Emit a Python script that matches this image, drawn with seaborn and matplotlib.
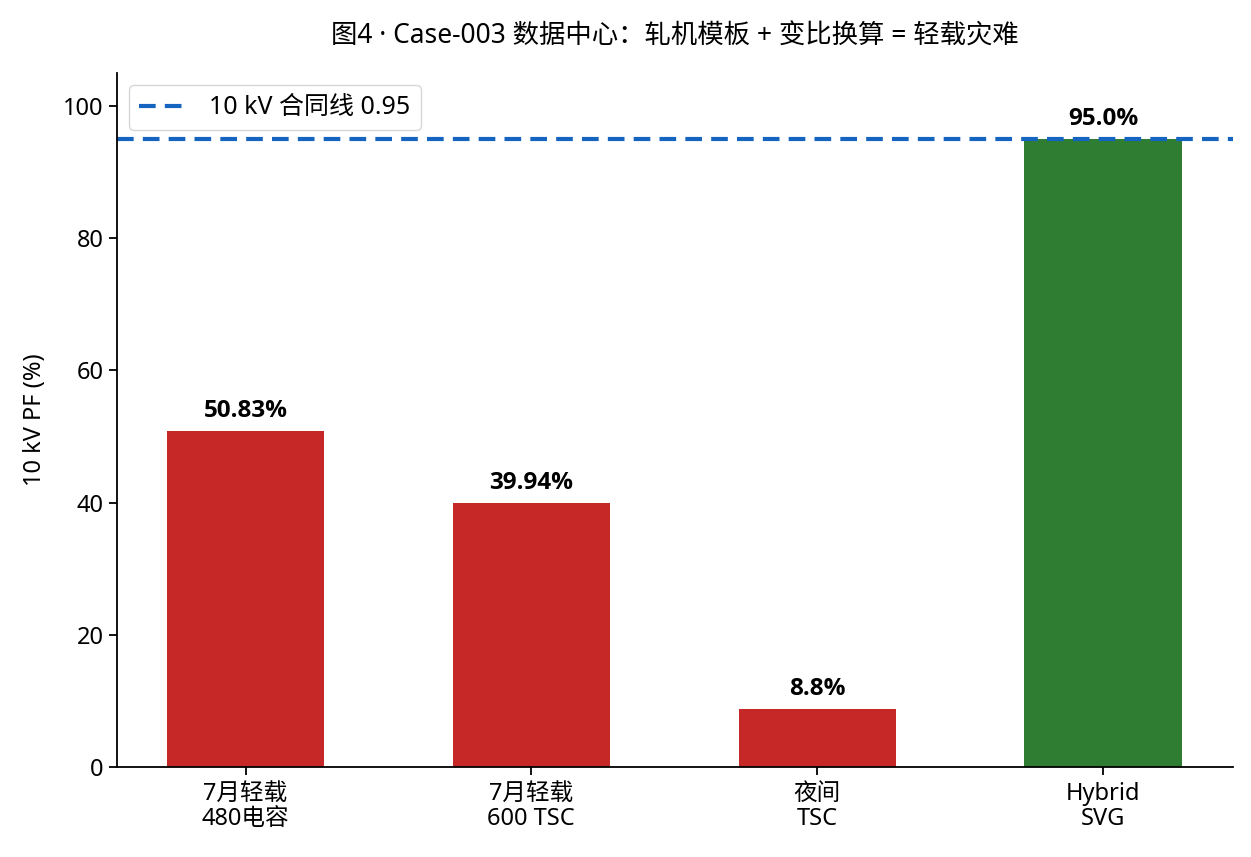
import matplotlib
matplotlib.use("Agg")
import matplotlib.pyplot as plt
import seaborn as sns
import pandas as pd

# data
categories = ["7月轻载\n480电容", "7月轻载\n600 TSC", "夜间\nTSC", "Hybrid\nSVG"]
pf_values = [50.83, 39.94, 8.8, 95.0]
value_labels = ["50.83%", "39.94%", "8.8%", "95.0%"]
contract_line = 95.0

sns.set_theme(style="ticks")
plt.rcParams['font.family'] = ['Noto Sans', 'Noto Sans CJK SC', 'DejaVu Sans']
plt.rcParams['axes.unicode_minus'] = False
plt.rcParams['text.color'] = 'black'
plt.rcParams['axes.labelcolor'] = 'black'
plt.rcParams['xtick.color'] = 'black'
plt.rcParams['ytick.color'] = 'black'
plt.rcParams['axes.edgecolor'] = 'black'

df = pd.DataFrame({"case": categories, "pf": pf_values})
palette = ["#C62828", "#C62828", "#C62828", "#2E7D32"]

fig, ax = plt.subplots(figsize=(12.51, 8.57), dpi=100)
sns.barplot(data=df, x="case", y="pf", hue="case", palette=palette,
            width=0.55, saturation=1, legend=False, linewidth=0, ax=ax)

ax.axhline(contract_line, color="#1565C0", linestyle="--", linewidth=3,
           dashes=(4, 2.2), label="10 kV 合同线 0.95")

for i, (v, lab) in enumerate(zip(pf_values, value_labels)):
    ax.text(i, v + 1.2, lab, ha="center", va="bottom", fontsize=17.5,
            fontweight="bold", family=['Open Sans', 'Noto Sans CJK SC'])

ax.set_ylim(0, 105)
ax.set_xlim(-0.45, 3.455)
ax.set_xlabel("")
ax.set_ylabel("10 kV PF (%)", fontsize=17, labelpad=12)
ax.set_title("图4 · Case-003 数据中心：轧机模板 + 变比换算 = 轻载灾难", fontsize=19, pad=21)
ax.tick_params(labelsize=17, width=1.3, length=6)
ax.tick_params(axis="x", pad=5)
for lbl in ax.get_xticklabels():
    lbl.set_linespacing(1.05)
for s in ax.spines.values():
    s.set_linewidth(1.3)
sns.despine(ax=ax)
ax.legend(loc="upper left", fontsize=18, handlelength=2.0, borderpad=0.4)

fig.subplots_adjust(left=0.0935, right=0.9856, top=0.915, bottom=0.105)
fig.savefig("out.png", dpi=100)
